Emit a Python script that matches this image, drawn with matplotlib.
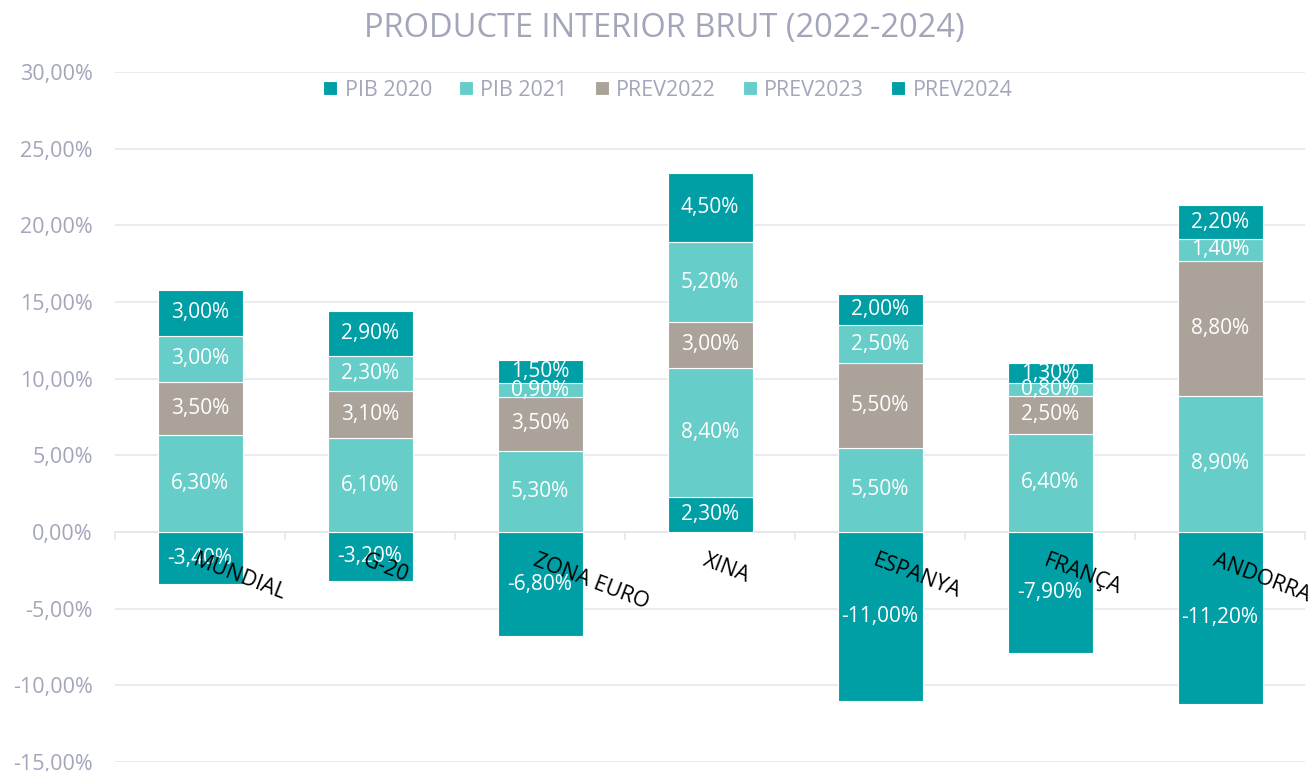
import matplotlib
matplotlib.use("Agg")
import matplotlib.pyplot as plt
import numpy as np

plt.rcParams['font.family'] = ['Open Sans', 'DejaVu Sans']

categories = ["MUNDIAL", "G-20", "ZONA EURO", "XINA", "ESPANYA", "FRANÇA", "ANDORRA"]
series_names = ["PIB 2020", "PIB 2021", "PREV2022", "PREV2023", "PREV2024"]
pib2020 = [-3.4, -3.2, -6.8, 2.3, -11.0, -7.9, -11.2]
pib2021 = [6.3, 6.1, 5.3, 8.4, 5.5, 6.4, 8.9]
prev2022 = [3.5, 3.1, 3.5, 3.0, 5.5, 2.5, 8.8]
prev2023 = [3.0, 2.3, 0.9, 5.2, 2.5, 0.8, 1.4]
prev2024 = [3.0, 2.9, 1.5, 4.5, 2.0, 1.3, 2.2]
yticks = [-15, -10, -5, 0, 5, 10, 15, 20, 25, 30]

series = [pib2020, pib2021, prev2022, prev2023, prev2024]
colors = ["#009FA6", "#66CDC8", "#ABA39A", "#66CDC8", "#009FA6"]
grey_text = "#A3A6BA"
grid_col = "#E6E6EE"

fig = plt.figure(figsize=(13.12, 7.71), dpi=100)
ax = fig.add_axes([115/1312, 9/771, 1190/1312, 690/771])

x = np.arange(len(categories))
pos_base = np.zeros(len(categories))
neg_base = np.zeros(len(categories))
width = 0.5
for name, vals, col in zip(series_names, series, colors):
    vals = np.array(vals, dtype=float)
    bottoms = np.where(vals >= 0, pos_base, neg_base)
    ax.bar(x, vals, width, bottom=bottoms, color=col, edgecolor="white",
           linewidth=0.8, label=name, zorder=3)
    for xi, b, v in zip(x, bottoms, vals):
        ax.text(xi, b + v / 2, f"{v:.2f}%".replace(".", ","), ha="center",
                va="center", color="white", fontsize=15, zorder=4)
    pos_base = pos_base + np.where(vals >= 0, vals, 0)
    neg_base = neg_base + np.where(vals < 0, vals, 0)

ax.set_xlim(-0.5, len(categories) - 0.5)
ax.set_ylim(-15, 30)
ax.set_yticks(yticks)
ax.set_yticklabels([f"{t:.2f}%".replace(".", ",") for t in yticks],
                   color=grey_text, fontsize=15.5)
ax.tick_params(axis="y", length=0, pad=16)
ax.yaxis.grid(True, color=grid_col, linewidth=1.2, zorder=0)
for s in ["top", "right", "left"]:
    ax.spines[s].set_visible(False)
ax.spines["bottom"].set_position(("data", 0))
ax.spines["bottom"].set_color(grid_col)
ax.spines["bottom"].set_linewidth(1.2)
ax.set_xticks(np.arange(len(categories) + 1) - 0.5)
ax.set_xticklabels([])
ax.tick_params(axis="x", length=6, color=grid_col, width=1.2, direction="out")

for xi, cat in zip(x, categories):
    ax.annotate(cat, xy=(xi, 0), xytext=(-1.5, -13), textcoords="offset points",
                rotation=-21, rotation_mode="anchor", ha="left", va="top",
                fontsize=15.5, color="black", zorder=5)

fig.text(0.506, 1 - 28/771, "PRODUCTE INTERIOR BRUT (2022-2024)", ha="center",
         va="center", fontsize=23.5, color=grey_text)

leg = fig.legend(loc="center", bbox_to_anchor=(0.509, 1 - 90/771), ncol=5,
                 frameon=False, fontsize=15.5, handlelength=0.65, handleheight=0.65,
                 handletextpad=0.35, columnspacing=1.25)
for t in leg.get_texts():
    t.set_color(grey_text)

fig.savefig("out.png", dpi=100)
